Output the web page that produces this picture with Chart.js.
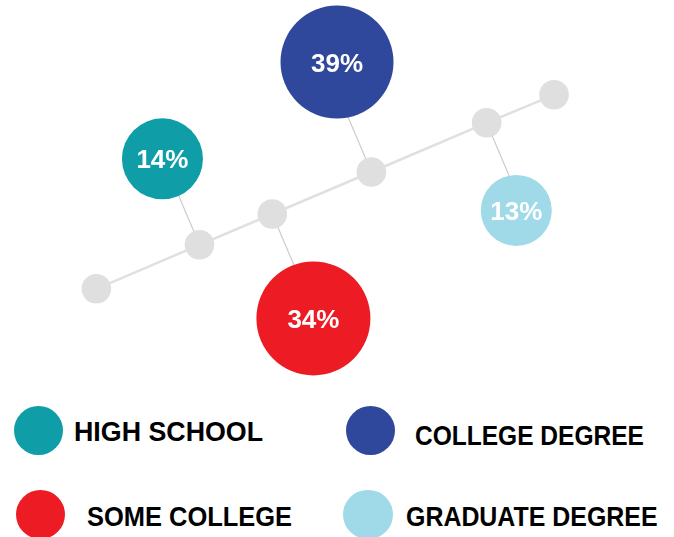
<!DOCTYPE html>
<html>
<head>
<meta charset="utf-8">
<script src="https://cdn.jsdelivr.net/npm/chart.js@4"></script>
<style>
  html, body { margin: 0; padding: 0; background: #fff; }
  #wrap { position: relative; width: 674px; height: 537px; overflow: hidden; }
  #chart-box { position: absolute; left: 0; top: 0; width: 674px; height: 400px; }
  .dot { position: absolute; border-radius: 50%; }
  .lbl {
    position: absolute; white-space: nowrap;
    font: bold 28px 'Liberation Sans', Arial, sans-serif;
    line-height: 28px; color: #000; transform-origin: 0 0;
  }
</style>
</head>
<body>
<div id="wrap">
  <div id="chart-box"><canvas id="chart" width="674" height="400"></canvas></div>
  <div id="legend"></div>
</div>
<script>
const categories = ['HIGH SCHOOL', 'SOME COLLEGE', 'COLLEGE DEGREE', 'GRADUATE DEGREE']
const shares     = [14, 34, 39, 13]
const bubbleX    = [2.41, 4.65, 5.00, 7.66]
const bubbleY    = [6.03, 2.04, 8.45, 4.74]
const trackX     = [1.43, 2.96, 4.04, 5.51, 7.22, 8.22]
const trackY     = [2.78, 3.88, 4.65, 5.70, 6.93, 7.63]
const hangFrom   = [1, 2, 3, 4]   // which track stop each bubble hangs from

// styles
const COLORS   = ['#0f9da8', '#ed1c24', '#30489b', '#a0dae8']
const RADII    = [40.5, 57, 56.5, 35.5]
const GREY_DOT = '#dfdfdf'
const GREY_LN  = '#e0e0e0'
const HANG_LN  = '#cccccc'

// legend layout: circle centre, text left, baseline, target width
const LEGEND_SPOTS = [
  { cx: 38.7,  cy: 430.3, tx: 74,    base: 441.7, w: 189 },
  { cx: 40.5,  cy: 514.7, tx: 87.3,  base: 526.7, w: 205 },
  { cx: 370.3, cy: 430.3, tx: 415,   base: 445.7, w: 229 },
  { cx: 368,   cy: 514.7, tx: 405.7, base: 526.7, w: 251.6 },
]

const pts = (xs, ys) => xs.map((x, i) => ({ x, y: ys[i] }))

const hangSets = categories.map((c, i) => ({
  label: c + ' link',
  data: [{ x: trackX[hangFrom[i]], y: trackY[hangFrom[i]] }, { x: bubbleX[i], y: bubbleY[i] }],
  showLine: true,
  borderColor: HANG_LN,
  borderWidth: 1.2,
  pointRadius: 0,
  clip: false,
}))

const bubbleLabels = {
  id: 'bubbleLabels',
  afterDatasetsDraw(chart) {
    const ctx = chart.ctx
    const meta = chart.getDatasetMeta(0)
    ctx.save()
    ctx.fillStyle = '#fff'
    ctx.font = "bold 26px 'Liberation Sans', Arial, sans-serif"
    ctx.textAlign = 'center'
    ctx.textBaseline = 'alphabetic'
    meta.data.forEach((p, i) => {
      ctx.fillText(shares[i] + '%', p.x, p.y + 9.5)
    })
    ctx.restore()
  }
}

const chart = new Chart(document.getElementById('chart'), {
  type: 'scatter',
  data: {
    datasets: [
      {
        label: 'share',
        data: pts(bubbleX, bubbleY),
        pointRadius: ctx => RADII[ctx.dataIndex],
        pointBackgroundColor: COLORS,
        pointBorderWidth: 0,
        clip: false,
      },
      {
        label: 'track',
        data: pts(trackX, trackY),
        showLine: true,
        borderColor: GREY_LN,
        borderWidth: 2.5,
        pointRadius: 14.8,
        pointBackgroundColor: GREY_DOT,
        pointBorderWidth: 0,
        tension: 0,
        clip: false,
      },
      ...hangSets
    ]
  },
  options: {
    responsive: false,
    animation: false,
    events: [],
    layout: { padding: 0, autoPadding: false },
    scales: {
      x: { type: 'linear', min: 0, max: 10, display: false },
      y: { type: 'linear', min: 0, max: 10, display: false },
    },
    plugins: { legend: { display: false }, tooltip: { enabled: false } }
  },
  plugins: [bubbleLabels]
})

// connectors run at right angles to the track, from the stop into the bubble
function hangLines(chart) {
  const sx = chart.scales.x, sy = chart.scales.y
  const px = v => sx.getPixelForValue(v), py = v => sy.getPixelForValue(v)
  const last = trackX.length - 1
  const dx = px(trackX[last]) - px(trackX[0])
  const dy = py(trackY[last]) - py(trackY[0])
  const len = Math.hypot(dx, dy)
  const nx = -dy / len, ny = dx / len
  categories.forEach((c, i) => {
    const k  = hangFrom[i]
    const ox = px(trackX[k]), oy = py(trackY[k])
    const t  = (px(bubbleX[i]) - ox) * nx + (py(bubbleY[i]) - oy) * ny
    chart.data.datasets[2 + i].data = [
      { x: trackX[k], y: trackY[k] },
      { x: sx.getValueForPixel(ox + nx * t), y: sy.getValueForPixel(oy + ny * t) }
    ]
  })
  chart.update()
}
hangLines(chart)

// legend
const legend = document.getElementById('legend')
categories.forEach((c, i) => {
  const s = LEGEND_SPOTS[i]
  const d = document.createElement('div')
  d.className = 'dot'
  d.style.cssText = `left:${s.cx - 24.7}px;top:${s.cy - 24.7}px;width:49.4px;height:49.4px;background:${COLORS[i]}`
  legend.appendChild(d)
  const t = document.createElement('div')
  t.className = 'lbl'
  t.textContent = c
  t.style.left = s.tx + 'px'
  t.style.top  = (s.base - 23.7) + 'px'
  legend.appendChild(t)
  const natural = t.getBoundingClientRect().width
  t.style.transform = `scaleX(${(s.w / natural).toFixed(3)})`
})
</script>
</body>
</html>
